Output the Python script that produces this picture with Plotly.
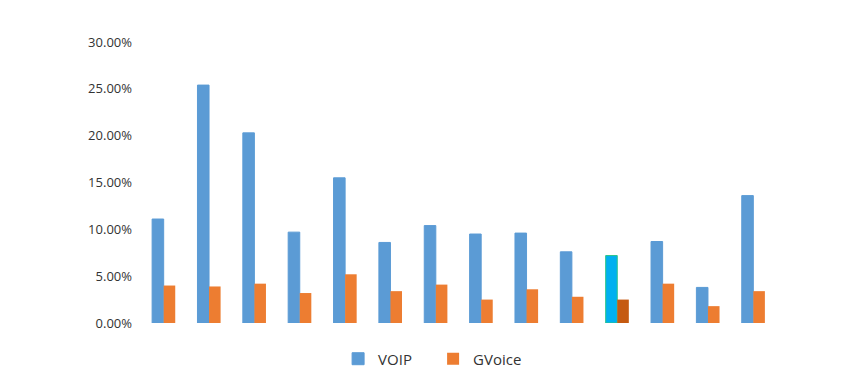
import plotly.graph_objects as go

categories = [f"C{i}" for i in range(1, 15)]
voip = [0.111, 0.254, 0.203, 0.097, 0.155, 0.086, 0.104, 0.095, 0.096, 0.076, 0.072, 0.087, 0.038, 0.136]
gvoice = [0.040, 0.039, 0.042, 0.032, 0.052, 0.034, 0.041, 0.025, 0.036, 0.028, 0.025, 0.042, 0.018, 0.034]
highlight_index = 10
y_ticks = [0, 0.05, 0.10, 0.15, 0.20, 0.25, 0.30]

blue, orange = "#5B9BD5", "#ED7D31"
voip_colors = [("#00B0F0" if i == highlight_index else blue) for i in range(len(categories))]
voip_lines = [("#2BC48A" if i == highlight_index else blue) for i in range(len(categories))]
gv_colors = [("#C55A11" if i == highlight_index else orange) for i in range(len(categories))]

fig = go.Figure()
fig.add_trace(go.Bar(x=categories, y=voip, name="VOIP", marker=dict(color=voip_colors, line=dict(color=voip_lines, width=1))))
fig.add_trace(go.Bar(x=categories, y=gvoice, name="GVoice", marker=dict(color=gv_colors, line=dict(width=0))))

fig.update_layout(
    width=853, height=387,
    margin=dict(l=133, r=85, t=34, b=72),
    paper_bgcolor="white", plot_bgcolor="white",
    barmode="group", bargap=0.49, bargroupgap=0,
    font=dict(family="Open Sans, Noto Sans, sans-serif", size=13, color="#333333"),
    showlegend=True,
    legend=dict(orientation="h", x=0.46, xanchor="center", y=-0.128, yanchor="middle",
                font=dict(size=15, color="#333333"), itemwidth=30, traceorder="normal",
                entrywidth=50, entrywidthmode="pixels"),
    xaxis=dict(showticklabels=False, showgrid=False, zeroline=False, showline=False, ticks=""),
    yaxis=dict(range=[0, 0.30], tickvals=y_ticks, tickformat=".2%", showgrid=False,
               zeroline=False, showline=False, ticks="", ticklabelstandoff=8),
)
fig.write_html("out.html")
